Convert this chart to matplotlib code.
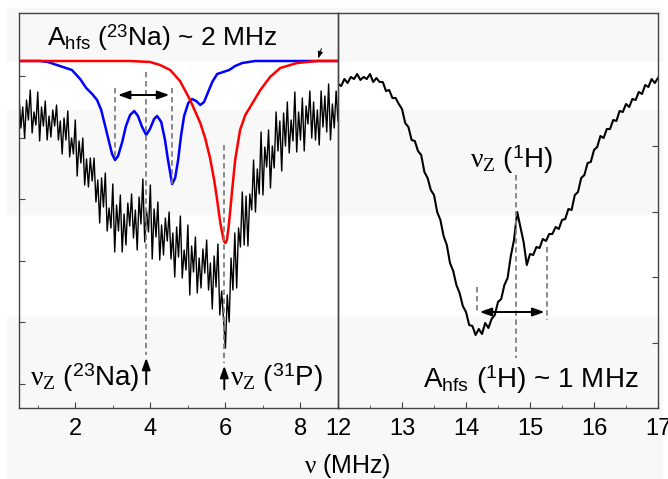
import matplotlib.pyplot as plt
import numpy as np
from matplotlib.patches import Rectangle

plt.rcParams['font.family'] = 'Liberation Sans'
plt.rcParams['mathtext.fontset'] = 'custom'
plt.rcParams['mathtext.rm'] = 'Liberation Sans'
plt.rcParams['mathtext.it'] = 'Liberation Serif'
plt.rcParams['mathtext.bf'] = 'Liberation Sans:bold'

# measured ENDOR spectrum, left part (0.5 - 9 MHz), arb. units
left_x = np.linspace(0.5, 9.0, 171)
left_y = [313, 280, 301, 270, 308, 288, 318, 275, 296, 283,
          316, 267, 301, 282, 307, 268, 292, 271, 298, 282,
          303, 268, 287, 254, 290, 268, 297, 251, 270, 254,
          288, 232, 267, 245, 270, 223, 249, 221, 250, 227,
          250, 206, 228, 185, 230, 201, 235, 177, 200, 180,
          224, 156, 203, 177, 213, 156, 194, 163, 205, 182,
          214, 170, 198, 158, 211, 184, 229, 166, 197, 176,
          223, 149, 199, 171, 206, 148, 183, 153, 190, 167,
          196, 149, 175, 131, 181, 151, 192, 130, 158, 138,
          183, 113, 162, 136, 171, 115, 150, 120, 159, 135,
          168, 118, 145, 99, 152, 121, 164, 93, 117, 89,
          60, 113, 86, 150, 118, 175, 120, 180, 161, 216,
          163, 212, 162, 214, 198, 248, 196, 239, 214, 276,
          213, 261, 241, 278, 220, 262, 240, 296, 257, 287,
          237, 295, 262, 306, 255, 288, 267, 316, 256, 296,
          268, 310, 257, 302, 284, 317, 270, 306, 268, 298,
          263, 317, 281, 312, 276, 324, 268, 304, 280, 317,
          287]

# right part (12 - 17 MHz)
right_x = np.linspace(12, 17, 101)
right_y = [324, 322, 329, 325, 331, 329, 334, 328, 331, 329,
           334, 326, 330, 326, 326, 317, 318, 310, 310, 304,
           299, 285, 281, 268, 267, 257, 253, 236, 230, 218,
           213, 196, 188, 172, 163, 145, 137, 123, 115, 102,
           96, 83, 82, 73, 79, 74, 85, 80, 89, 93,
           106, 109, 123, 130, 152, 168, 196, 181, 166, 143,
           154, 153, 161, 160, 169, 167, 174, 174, 181, 179,
           188, 189, 199, 198, 213, 216, 230, 233, 245, 246,
           258, 261, 272, 270, 279, 279, 288, 287, 297, 296,
           304, 301, 309, 308, 316, 314, 323, 321, 329, 325,
           330]

# simulation 23Na (blue)
na_x = [0.50, 1.06, 1.27, 1.59, 1.91, 2.13, 2.29, 2.45, 2.58, 2.69,
        2.79, 2.90, 2.98, 3.06, 3.14, 3.25, 3.35, 3.46, 3.57, 3.67,
        3.78, 3.89, 3.99, 4.10, 4.18, 4.29, 4.39, 4.47, 4.58, 4.66,
        4.74, 4.82, 4.90, 5.01, 5.11, 5.22, 5.33, 5.43, 5.54, 5.65,
        5.78, 5.94, 6.10, 6.26, 6.45, 6.79, 9.00]
na_y = [347, 347, 346, 342, 338, 329, 320, 314, 308, 298,
        283, 266, 254, 248, 252, 266, 282, 293, 297, 292,
        281, 273, 279, 289, 292, 286, 268, 248, 224, 230,
        248, 273, 292, 305, 309, 307, 303, 306, 316, 326,
        334, 336, 338, 342, 345, 347, 347]

# simulation 31P (red)
p_x = [0.5, 3.46, 3.73, 3.99, 4.26, 4.53, 4.79, 5.06, 5.33, 5.46,
       5.59, 5.70, 5.78, 5.86, 5.91, 5.96, 6.00, 6.04, 6.09, 6.13,
       6.18, 6.26, 6.39, 6.53, 6.66, 6.93, 7.19, 7.46, 7.91, 8.45, 9.0]
p_y = [347, 347, 346.5, 346, 343, 338, 327, 308, 285, 270,
       250, 228, 208, 186, 176, 167, 165, 168, 183, 198,
       218, 248, 278, 293, 301, 318, 331, 340, 345, 347, 347]

# marker positions (MHz)
na_lines = [3.06, 3.89, 4.58]
p_line = 5.97
h_lines = [14.17, 14.78, 15.27]

W, H = 668, 479
fig = plt.figure(figsize=(W / 100, H / 100), dpi=100)

# faint banded page background
for top, bot in [(8, 60), (110, 214), (317, 479)]:
    fig.patches.append(Rectangle((7 / W, 1 - bot / H), 655 / W, (bot - top) / H,
                                 transform=fig.transFigure, color='#f8f8f8', zorder=-10))

ax1 = fig.add_axes([19 / W, 1 - 408 / H, (338 - 19) / W, 395 / H])
ax2 = fig.add_axes([338 / W, 1 - 408 / H, (658 - 338) / W, 395 / H])

for ax in (ax1, ax2):
    ax.set_facecolor('none')
    ax.set_ylim(0, 395)
    for s in ax.spines.values():
        s.set_color('#444444')
        s.set_linewidth(1)
    ax.tick_params(which='major', direction='in', length=4, color='#444444', labelsize=17, pad=7)
    ax.tick_params(which='minor', direction='in', length=2.5, color='#444444')

ax1.set_xlim(0.5, 9.0)
ax1.set_xticks([2, 4, 6, 8])
ax1.set_xticks([1, 3, 5, 7], minor=True)
ax1.set_yticks([24, 86, 147, 209, 270, 332])
ax1.tick_params(axis='y', left=True, right=False, labelleft=False)

ax2.set_xlim(12, 17)
ax2.set_xticks([12, 13, 14, 15, 16, 17])
ax2.set_xticks([12.5, 13.5, 14.5, 15.5, 16.5], minor=True)
ax2.set_yticks([65, 131, 196, 262])
ax2.tick_params(axis='y', left=False, right=True, labelleft=False, labelright=False)

ax1.plot(left_x, left_y, color='black', lw=1.0)
ax1.plot(na_x, na_y, color='#0000ff', lw=1.8)
ax1.plot(p_x, p_y, color='#ff0000', lw=1.8)
ax2.plot(right_x, right_y, color='black', lw=1.5)

dash = dict(color='#808080', lw=1.3, ls=(0, (3, 2)))
ax1.plot([na_lines[0]] * 2, [320, 248], **dash)
ax1.plot([na_lines[1]] * 2, [336, 53], **dash)
ax1.plot([na_lines[2]] * 2, [320, 223], **dash)
ax1.plot([p_line] * 2, [263, 45], **dash)
ax2.plot([h_lines[0]] * 2, [121, 95], **dash)
ax2.plot([h_lines[1]] * 2, [233, 50], **dash)
ax2.plot([h_lines[2]] * 2, [161, 88], **dash)

arr = dict(arrowstyle='<|-|>,head_length=0.7,head_width=0.25', color='black', lw=1.4)
up = dict(arrowstyle='-|>,head_length=0.7,head_width=0.25', color='black', lw=1.4)
ax1.annotate('', xy=(na_lines[2], 313), xytext=(na_lines[0], 313), arrowprops=arr)
ax2.annotate('', xy=(h_lines[2], 96), xytext=(h_lines[0], 96), arrowprops=arr)
ax1.annotate('', xy=(na_lines[1], 53), xytext=(na_lines[1], 21), arrowprops=up)
ax1.annotate('', xy=(p_line, 45), xytext=(p_line, 16), arrowprops=up)
ax1.annotate('', xy=(8.45, 347), xytext=(8.58, 362),
             arrowprops=dict(arrowstyle='-|>,head_length=0.4,head_width=0.15', color='black', lw=0.7))

ax1.text(1.25, 370, r'A$_{\mathrm{hfs}}$ ($^{23}$Na) ~ 2 MHz', fontsize=19, va='center', ha='left')
ax1.text(0.78, 30, r'$\nu_Z$ ($^{23}$Na)', fontsize=20, va='center', ha='left')
ax1.text(6.13, 30, r'$\nu_Z$ ($^{31}$P)', fontsize=20, va='center', ha='left')
ax2.text(14.06, 248, r'$\nu_Z$ ($^{1}$H)', fontsize=20, va='center', ha='left')
ax2.text(13.33, 28, r'A$_{\mathrm{hfs}}$ ($^{1}$H) ~ 1 MHz', fontsize=20, va='center', ha='left')
fig.text(347 / W, 1 - 466 / H, r'$\nu$ (MHz)', fontsize=18, ha='center', va='center')

fig.savefig('out.png', dpi=100)
